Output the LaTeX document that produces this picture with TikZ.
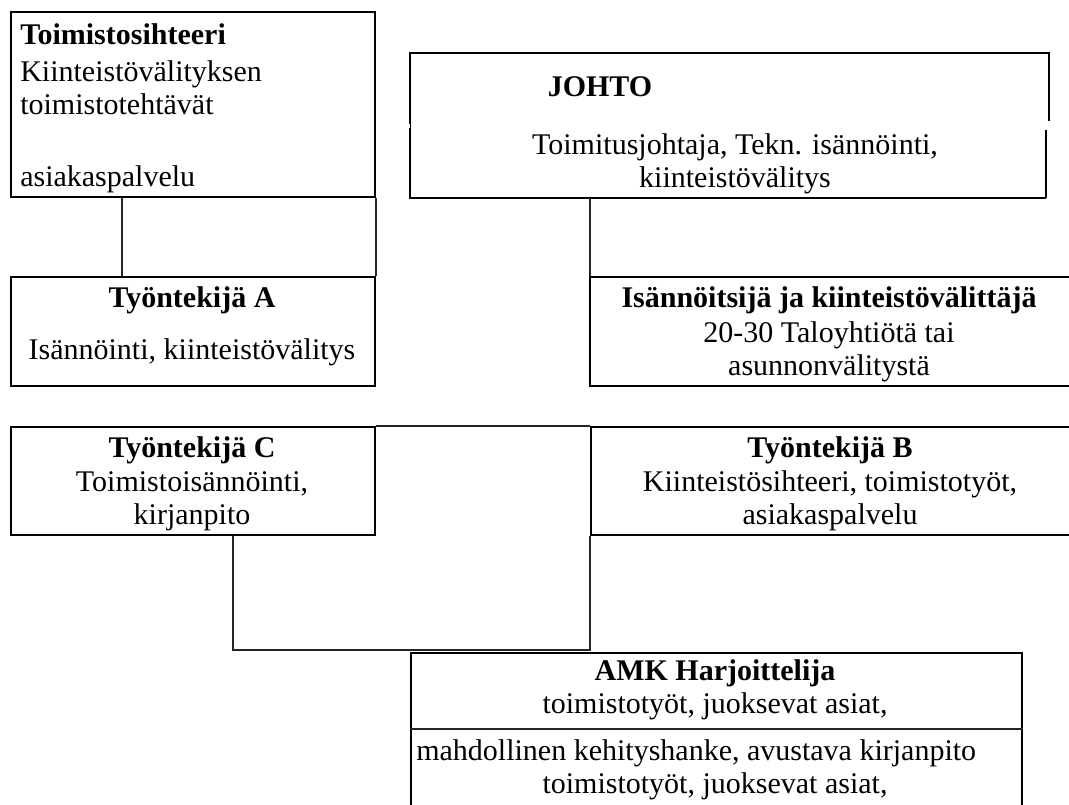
\documentclass[tikz,border=0pt]{standalone}
\usepackage{fontspec}
\setmainfont{Liberation Serif}
\begin{document}
\begin{tikzpicture}[x=0.75pt,y=-0.75pt,
  box/.style={draw=black, line width=1.5pt, inner sep=0pt, anchor=north west},
  conn/.style={draw=black!85, line width=0.8pt},
  txt/.style={inner sep=0pt, anchor=base, font=\fontsize{22.5}{27}\selectfont},
  txtl/.style={txt, anchor=base west},
  bold/.style={font=\fontsize{22.5}{27}\selectfont\bfseries}]
\useasboundingbox (0,0) rectangle (1069,805);
\clip (0,0) rectangle (1069,805);
\fill[white] (0,0) rectangle (1069,805);
% boxes
\node[box, minimum width=364*0.75pt, minimum height=185*0.75pt] (sih) at (10,11) {};
\node[box, draw=none, minimum width=637*0.75pt, minimum height=143*0.75pt] (johto) at (410,53) {};
\node[box, minimum width=364*0.75pt, minimum height=109*0.75pt] (tA) at (10,276) {};
\node[box, minimum width=486*0.75pt, minimum height=109*0.75pt] (isa) at (589,276) {};
\node[box, minimum width=364*0.75pt, minimum height=108*0.75pt] (tC) at (10,426) {};
\node[box, minimum width=485*0.75pt, minimum height=108*0.75pt] (tB) at (590,426) {};
\node[box, minimum width=611*0.75pt, minimum height=170*0.75pt] (amk) at (410,652) {};
% JOHTO outline with broken right edge
\draw[line width=1.5pt] ([xshift=-2.25pt]johto.south east) -- (johto.south west) -- (johto.north west) -- (johto.north east) -- ++(0,68);
\draw[line width=1.5pt] ([xshift=-2.25pt]johto.south east) -- ++(0,-68);
% helper coordinates
\coordinate (ydbl) at (0,126);
\coordinate (xa) at (122,0);
\coordinate (xc) at (233,0);
\coordinate (yj) at (0,650);
\coordinate (ydiv) at (0,729);
% connectors
\draw[line width=0.6pt, double, double distance=2.4pt] (sih.east |- ydbl) -- (johto.west |- ydbl);
\draw[conn] (sih.south -| xa) -- (tA.north -| xa);
\draw[conn] (sih.south east) -- (tA.north east);
\draw[conn] ([xshift=0.75pt]johto.south -| isa.north west) -- ([xshift=0.75pt]isa.north west);
\draw[conn] (tC.north east) -- (tB.north west);
\draw[conn] (tC.south -| xc) |- (tB.south west |- yj) -- (tB.south west);
\draw[conn] (amk.west |- ydiv) -- (amk.east |- ydiv);
% texts
\node[txtl, bold] (s1) at (20,45) {Toimistosihteeri};
\node[txtl] (s2) at (20,82) {Kiinteistövälityksen};
\node[txtl] (s3) at (20,115) {toimistotehtävät};
\node[txtl] (s4) at (20,187) {asiakaspalvelu};
\node[txt, bold] (j1) at (600,97) {JOHTO};
\node[txt] (j2) at (735,155) {Toimitusjohtaja, Tekn. isännöinti,};
\node[txt] (j3) at (735,188) {kiinteistövälitys};
\node[txt, bold] (a1) at (192,307) {Työntekijä A};
\node[txt] (a2) at (192,359) {Isännöinti, kiinteistövälitys};
\node[txt, bold] (i1) at (829,307) {Isännöitsijä ja kiinteistövälittäjä};
\node[txt] (i2) at (829,342) {20-30 Taloyhtiötä tai};
\node[txt] (i3) at (829,375) {asunnonvälitystä};
\node[txt, bold] (c1) at (192,457) {Työntekijä C};
\node[txt] (c2) at (192,491) {Toimistoisännöinti,};
\node[txt] (c3) at (192,524) {kirjanpito};
\node[txt, bold] (b1) at (830,457) {Työntekijä B};
\node[txt] (b2) at (830,491) {Kiinteistösihteeri, toimistotyöt,};
\node[txt] (b3) at (830,524) {asiakaspalvelu};
\node[txt, bold] (m1) at (715,680) {AMK Harjoittelija};
\node[txt] (m2) at (715,713) {toimistotyöt, juoksevat asiat,};
\node[txtl] (m3) at (416,760) {mahdollinen kehityshanke, avustava kirjanpito};
\node[txt] (m4) at (715,793) {toimistotyöt, juoksevat asiat,};
\end{tikzpicture}
\end{document}
